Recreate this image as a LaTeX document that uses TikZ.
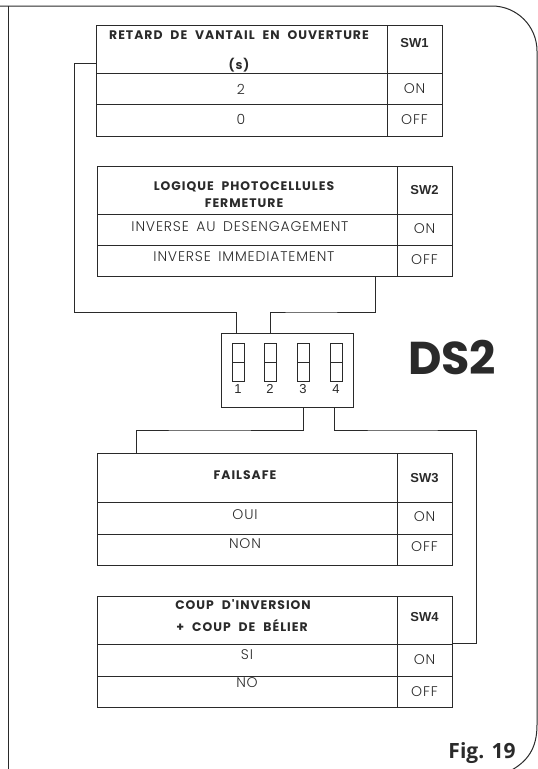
\documentclass[tikz,border=0pt]{standalone}
\usepackage{fontspec}
\setmainfont{Poppins}
\newfontfamily\hdrfont[LetterSpace=8,WordSpace=2.2]{Poppins}
\IfFontExistsTF{Poppins Light}{%
  \newfontfamily\bodyfont[LetterSpace=6,WordSpace=1.6]{Poppins Light}}{%
  \newfontfamily\bodyfont[LetterSpace=6,WordSpace=1.6]{Poppins}}
\newfontfamily\swfont{Liberation Sans}
\newfontfamily\figfont{Open Sans}
\definecolor{lc}{HTML}{2A2A2A}
\tikzset{
  cell/.style={draw=lc, line width=0.9pt, rectangle, inner sep=0pt},
  wide/.style={cell, minimum width=300pt},
  narrow/.style={cell, minimum width=55pt},
  hdr/.style={inner sep=0pt, font=\hdrfont\bfseries\fontsize{12.4}{14}\selectfont, text=lc},
  body/.style={inner sep=0pt, font=\bodyfont\fontsize{14}{16}\selectfont, text=lc},
  sw/.style={inner sep=0pt, font=\swfont\bfseries\fontsize{13}{15}\selectfont, text=lc},
  onoff/.style={inner sep=0pt, font=\bodyfont\fontsize{14}{16}\selectfont, text=lc},
  wire/.style={draw=lc, line width=0.9pt},
  frame/.style={draw=lc, line width=1pt},
  dip/.style={cell, line width=0.7pt, minimum width=12pt, minimum height=19pt},
  diplab/.style={inner sep=0pt, font=\swfont\fontsize{13}{15}\selectfont, text=lc}
}
\begin{document}
\begin{tikzpicture}[x=1pt,y=-1pt]
\useasboundingbox (0,0) rectangle (538,769);
\clip (0,0) rectangle (538,769);
% frame
\draw[frame] (0,6) -- (492,6) arc[start angle=-90, end angle=0, radius=45] -- (537,725) .. controls (537,748) and (528,762) .. (508,772);
\draw[frame] (8,6) -- (8,769);

% Table 1
\node[cell, minimum width=291pt, minimum height=48pt] (h1) at (241.5,49) {};
\node[narrow, minimum height=48pt] (s1) at (414.5,49) {};
\node[cell, minimum width=291pt, minimum height=31pt] (a1) at (241.5,88.5) {};
\node[narrow, minimum height=31pt] (o1) at (414.5,88.5) {};
\node[cell, minimum width=291pt, minimum height=32pt] (b1) at (241.5,120) {};
\node[narrow, minimum height=32pt] (f1) at (414.5,120) {};
\node[hdr] (t1a) at (239,35) {RETARD DE VANTAIL EN OUVERTURE};
\node[hdr] (t1b) at (239,65) {(s)};
\node[sw] (t1s) at (414.5,43) {SW1};
\node[body] (t1c) at (241,89) {2};
\node[onoff] (t1d) at (414.5,89) {ON};
\node[body] (t1e) at (241,119) {0};
\node[onoff] (t1f) at (414.5,120) {OFF};

% Table 2
\node[wide, minimum height=48pt] (h2) at (247,190) {};
\node[narrow, minimum height=48pt] (s2) at (424.5,190) {};
\node[wide, minimum height=31pt] (a2) at (247,229.5) {};
\node[narrow, minimum height=31pt] (o2) at (424.5,229.5) {};
\node[wide, minimum height=31pt] (b2) at (247,260.5) {};
\node[narrow, minimum height=31pt] (f2) at (424.5,260.5) {};
\node[hdr] (t2a) at (244,187) {LOGIQUE PHOTOCELLULES};
\node[hdr] (t2b) at (244,203) {FERMETURE};
\node[sw] (t2s) at (424.5,190) {SW2};
\node[body] (t2c) at (240,227) {INVERSE AU DESENGAGEMENT};
\node[onoff] (t2d) at (424.5,229) {ON};
\node[body] (t2e) at (244,257) {INVERSE IMMEDIATEMENT};
\node[onoff] (t2f) at (424.5,260) {OFF};

% DIP switch DS2
\node[cell, minimum width=132pt, minimum height=74pt] (ds) at (287,370) {};
\foreach \i/\x in {1/238,2/270,3/303,4/336}{
  \node[dip] (u\i) at (\x,352.5) {};
  \node[dip] (l\i) at (\x,371.5) {};
  \node[diplab] (n\i) at (\x,389) {\i};
}
\coordinate (p1t) at (236,333);
\coordinate (p2t) at (270,333);
\coordinate (p3b) at (303,407);
\coordinate (p4b) at (334,407);
\node[inner sep=0pt, font=\fontsize{46}{50}\selectfont\bfseries, text=lc] (dsl) at (452,357) {DS2};

% Table 3
\node[wide, minimum height=49pt] (h3) at (247,477.5) {};
\node[narrow, minimum height=49pt] (s3) at (424.5,477.5) {};
\node[wide, minimum height=32pt] (a3) at (247,518) {};
\node[narrow, minimum height=32pt] (o3) at (424.5,518) {};
\node[wide, minimum height=31pt] (b3) at (247,549.5) {};
\node[narrow, minimum height=31pt] (f3) at (424.5,549.5) {};
\node[hdr] (t3a) at (245,475) {FAILSAFE};
\node[sw] (t3s) at (424.5,478) {SW3};
\node[body] (t3c) at (245,515) {OUI};
\node[onoff] (t3d) at (424.5,517) {ON};
\node[body] (t3e) at (245,544) {NON};
\node[onoff] (t3f) at (424.5,547) {OFF};

% Table 4
\node[wide, minimum height=48pt] (h4) at (247,620) {};
\node[narrow, minimum height=48pt] (s4) at (424.5,620) {};
\node[wide, minimum height=32pt] (a4) at (247,660) {};
\node[narrow, minimum height=32pt] (o4) at (424.5,660) {};
\node[wide, minimum height=31pt] (b4) at (247,691.5) {};
\node[narrow, minimum height=31pt] (f4) at (424.5,691.5) {};
\node[hdr] (t4a) at (243,605) {COUP D'INVERSION};
\node[hdr] (t4b) at (242,625) {+ COUP DE BÉLIER};
\node[sw] (t4s) at (424.5,617) {SW4};
\node[body] (t4c) at (247,655) {SI};
\node[onoff] (t4d) at (424.5,660) {ON};
\node[body] (t4e) at (247,683) {NO};
\node[onoff] (t4f) at (424.5,692) {OFF};

% connectors
\coordinate (c1) at (96,63);
\coordinate (c2) at (375,276);
\coordinate (c3) at (136,453);
\coordinate (c4) at (452,643);
\draw[wire] (c1) -| (74,312) -| (p1t);
\draw[wire] (c2) |- (300,312) -| (p2t);
\draw[wire] (p3b) |- (200,430) -| (c3);
\draw[wire] (p4b) |- (400,430) -| (476,643) -- (c4);

\node[inner sep=0pt, font=\figfont\bfseries\fontsize{21}{24}\selectfont, text=lc] (fig) at (482,753) {Fig. 19};
\end{tikzpicture}
\end{document}
